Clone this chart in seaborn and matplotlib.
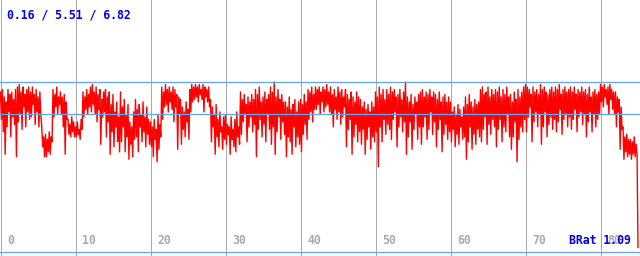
import numpy as np
import pandas as pd
import matplotlib
matplotlib.use("Agg")
import matplotlib.pyplot as plt
import seaborn as sns

# ---- data, one sample every 0.125 units ----
step = 0.125
values = [
    6.4, 5.3, 6.5, 4.8, 6.2, 3.9, 6.0, 5.0, 6.5, 5.6, 6.3, 4.6, 6.4, 5.4, 6.1, 5.1,
    6.5, 3.8, 6.6, 5.2, 6.7, 5.5, 6.4, 4.9, 6.6, 5.8, 6.3, 5.0, 6.5, 5.6, 6.6, 5.3,
    6.4, 5.4, 6.6, 5.9, 6.3, 5.1, 6.5, 5.6, 6.2, 5.0, 6.4, 5.5, 5.0, 4.2, 4.6, 3.8,
    4.7, 3.8, 4.5, 4.0, 4.8, 3.9, 4.6, 4.4, 6.5, 5.4, 6.3, 5.8, 6.6, 5.5, 6.2, 5.9,
    6.4, 5.5, 6.2, 5.0, 6.3, 3.9, 6.0, 5.3, 5.3, 4.7, 5.1, 4.6, 5.4, 4.8, 5.2, 4.6,
    5.0, 4.6, 5.2, 4.7, 4.9, 4.5, 5.3, 4.9, 6.4, 5.4, 6.2, 5.7, 6.5, 5.5, 6.3, 5.8,
    6.6, 5.6, 6.7, 5.9, 6.4, 5.5, 6.6, 5.2, 6.3, 5.7, 6.5, 4.3, 6.1, 5.4, 6.4, 5.6,
    6.5, 4.6, 6.2, 5.2, 6.4, 3.9, 5.9, 4.8, 6.3, 4.2, 5.6, 5.0, 6.0, 4.4, 5.4, 4.0,
    6.4, 4.4, 5.8, 5.0, 6.1, 4.0, 5.5, 4.6, 5.9, 3.7, 5.2, 4.3, 5.0, 3.8, 5.6, 4.5,
    6.1, 4.6, 5.7, 4.0, 5.9, 5.0, 5.5, 4.4, 6.0, 4.8, 5.4, 4.2, 5.8, 4.7, 5.3, 4.3,
    5.2, 4.2, 5.0, 3.8, 5.3, 4.5, 4.9, 3.6, 5.5, 4.1, 5.1, 4.6, 6.6, 5.3, 6.4, 5.8,
    6.7, 5.9, 6.5, 5.6, 6.6, 6.0, 6.4, 5.7, 6.6, 5.2, 6.5, 5.8, 6.3, 4.1, 6.2, 5.5,
    6.1, 4.3, 5.8, 4.9, 5.6, 4.6, 6.0, 5.2, 5.7, 4.5, 6.5, 5.6, 6.7, 6.0, 6.6, 6.1,
    6.7, 6.2, 6.6, 6.0, 6.7, 6.3, 6.5, 6.1, 6.7, 5.6, 6.6, 6.2, 6.5, 6.0, 6.6, 5.8,
    6.1, 4.4, 5.8, 5.0, 5.5, 3.9, 5.9, 4.6, 5.3, 4.2, 5.6, 4.8, 5.0, 4.1, 5.4, 4.5,
    5.5, 4.3, 5.1, 4.7, 5.0, 3.9, 5.4, 4.5, 4.9, 4.2, 5.3, 4.0, 5.6, 4.6, 5.0, 4.3,
    6.4, 4.7, 6.1, 5.2, 6.3, 5.5, 5.9, 4.4, 6.2, 5.0, 6.0, 5.4, 6.3, 4.8, 6.1, 5.1,
    6.5, 3.8, 6.3, 4.9, 6.6, 5.3, 6.0, 4.6, 6.2, 5.1, 6.4, 4.4, 6.1, 5.5, 6.3, 4.9,
    6.6, 4.3, 6.4, 5.0, 6.8, 3.9, 6.2, 4.8, 6.5, 5.4, 6.1, 4.5, 6.3, 5.2, 6.0, 4.7,
    6.0, 3.8, 5.8, 4.6, 6.2, 4.4, 5.7, 3.9, 5.9, 5.0, 6.1, 4.2, 5.6, 4.6, 6.0, 4.3,
    6.1, 4.0, 5.9, 4.7, 6.3, 5.1, 6.0, 4.5, 6.5, 5.3, 6.4, 5.6, 6.6, 5.2, 6.3, 5.7,
    6.6, 5.7, 6.5, 5.9, 6.6, 5.5, 6.4, 6.0, 6.6, 5.6, 6.5, 5.8, 6.7, 5.9, 6.4, 5.6,
    6.6, 5.5, 6.3, 5.0, 6.5, 5.7, 6.2, 5.3, 6.6, 5.6, 6.4, 5.1, 6.5, 5.4, 6.2, 5.8,
    6.5, 4.2, 6.3, 4.9, 6.1, 5.3, 6.4, 3.9, 6.2, 4.6, 6.0, 5.1, 6.4, 4.4, 6.2, 4.8,
    6.1, 4.3, 5.8, 4.9, 6.0, 3.9, 5.7, 4.5, 5.9, 5.0, 5.6, 4.1, 6.0, 4.6, 5.8, 4.4,
    6.4, 4.8, 6.2, 3.4, 6.6, 5.0, 6.3, 4.4, 6.5, 5.3, 6.1, 4.7, 6.5, 5.1, 6.3, 4.9,
    6.6, 4.5, 6.4, 5.3, 6.5, 5.6, 6.2, 4.2, 6.3, 5.0, 6.5, 5.4, 6.1, 4.8, 6.4, 5.2,
    6.8, 3.9, 6.2, 4.6, 6.0, 5.2, 6.3, 4.1, 5.9, 4.9, 6.2, 5.5, 6.0, 4.5, 6.3, 5.0,
    6.4, 4.3, 6.5, 5.0, 6.2, 5.4, 6.4, 4.5, 6.3, 4.9, 6.5, 5.6, 6.2, 4.7, 6.4, 5.2,
    6.3, 4.2, 6.1, 4.9, 6.4, 5.3, 6.0, 4.0, 6.2, 4.7, 6.3, 5.1, 6.0, 4.5, 6.2, 4.8,
    6.0, 4.4, 5.6, 4.9, 5.8, 4.2, 5.5, 4.7, 5.9, 4.3, 5.7, 5.0, 5.4, 4.5, 5.8, 4.6,
    6.2, 3.7, 5.9, 4.4, 6.3, 5.0, 6.0, 4.1, 5.8, 4.7, 6.1, 4.3, 5.9, 4.9, 6.0, 4.6,
    6.5, 4.4, 6.6, 4.9, 6.3, 5.4, 6.4, 4.3, 6.6, 5.1, 6.2, 4.7, 6.5, 5.3, 6.3, 5.0,
    6.5, 4.2, 6.4, 4.9, 6.6, 5.3, 6.2, 4.4, 6.5, 5.0, 6.3, 4.8, 6.6, 5.5, 6.2, 4.6,
    6.3, 4.1, 6.0, 4.6, 6.4, 5.2, 6.1, 3.6, 6.5, 4.5, 6.2, 5.0, 6.4, 4.8, 6.6, 5.3,
    6.7, 4.8, 6.6, 5.4, 6.5, 5.8, 6.3, 4.4, 6.6, 5.2, 6.4, 5.6, 6.5, 5.0, 6.3, 5.5,
    6.7, 4.3, 6.5, 5.0, 6.6, 5.6, 6.4, 4.6, 6.3, 5.1, 6.5, 5.4, 6.6, 4.9, 6.4, 5.3,
    6.6, 4.8, 6.5, 5.2, 6.7, 5.7, 6.3, 4.7, 6.5, 5.3, 6.6, 5.5, 6.4, 5.0, 6.5, 5.4,
    6.6, 4.9, 6.4, 5.3, 6.6, 5.7, 6.3, 4.8, 6.5, 5.4, 6.4, 5.6, 6.6, 5.1, 6.4, 5.5,
    6.5, 4.6, 6.3, 5.2, 6.6, 5.6, 6.2, 4.8, 6.4, 5.5, 6.5, 5.0, 6.3, 5.3, 6.4, 5.5,
    6.7, 6.0, 6.6, 5.8, 6.7, 6.2, 6.5, 5.9, 6.6, 5.5, 6.7, 6.1, 6.5, 5.7, 6.4, 5.5,
    6.4, 5.0, 6.2, 5.6, 6.1, 4.1, 5.8, 4.9, 5.0, 3.7, 4.6, 4.0, 4.7, 3.8, 4.5, 3.9,
    4.5, 3.7, 4.4, 3.9, 4.6, 3.8, 4.3, 3.9, 0.16,
]
positions = np.arange(len(values)) * step

stat_min, stat_avg, stat_max = 0.16, 5.51, 6.82
ratio_label = "BRat 1.09"
tick_values = [0, 10, 20, 30, 40, 50, 60, 70, 80]
tick_labels = ["0", "10", "20", "30", "40", "50", "60", "70", "80"]

df = pd.DataFrame({"x": positions, "y": values})

# ---- figure ----
fig = plt.figure(figsize=(6.4, 2.56), dpi=100)
ax = fig.add_axes([0, 0, 1, 1])
ax.set_facecolor("white")
for s in ax.spines.values():
    s.set_visible(False)
ax.set_xticks([])
ax.set_yticks([])

px_per_unit_x = 7.5
ax.set_xlim(-0.5 / px_per_unit_x, (640 - 0.5) / px_per_unit_x)
px_per_unit_y = 170 / 6.82
ax.set_ylim(-(256 - 251.5) / px_per_unit_y, 251.5 / px_per_unit_y)

grid_gray = "#aaaaaa"
blue_line = "#66a3ee"
lw_px = 72 / 100.0  # 1 px in points

for t in tick_values:
    ax.axvline(t, color=grid_gray, linewidth=lw_px, zorder=1)

sns.lineplot(data=df, x="x", y="y", color="#ff0000", linewidth=1.0,
             estimator=None, sort=False, ax=ax, zorder=2)

for yv in (stat_max, stat_avg, 0.0):
    ax.axhline(yv, color=blue_line, linewidth=lw_px * 1.3, zorder=3)

ax.set_xlabel("")
ax.set_ylabel("")

mono = {"family": "DejaVu Sans Mono", "weight": "bold", "size": 8.3}
ylab = 1 - 241 / 256
for t, lab in zip(tick_values, tick_labels):
    ax.text(t + 6.5 / px_per_unit_x, ylab, lab, transform=ax.get_xaxis_transform(),
            color=grid_gray, ha="left", va="center", fontdict=mono, zorder=4)

ax.text(7 / 640, 1 - 15 / 256, f"{stat_min:.2f} / {stat_avg:.2f} / {stat_max:.2f}",
        transform=ax.transAxes, color="#0000ee", ha="left", va="center",
        fontdict=mono, zorder=5)
ax.text(631 / 640, ylab, ratio_label, transform=ax.transAxes, color="#0000ee",
        ha="right", va="center", fontdict=mono, zorder=5)

fig.savefig("out.png", dpi=100, facecolor="white")
